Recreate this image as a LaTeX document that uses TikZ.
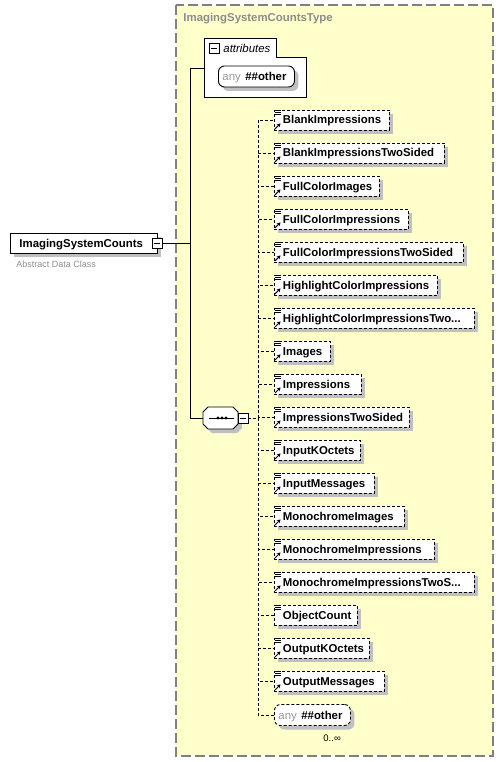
\documentclass[tikz,border=0pt]{standalone}
\usepackage{fontspec}
\setmainfont{Liberation Sans}
\usetikzlibrary{shadows,arrows.meta}
\definecolor{typefill}{HTML}{FFFFCC}
\definecolor{typeline}{HTML}{808080}
\definecolor{shadowgray}{HTML}{C0C0C0}
\definecolor{hintgray}{HTML}{8C8C8C}
\definecolor{anygray}{HTML}{999999}
\hyphenpenalty=10000
\exhyphenpenalty=10000
\newcommand\elemfont{\fontsize{11.4pt}{13pt}\selectfont\bfseries}
\newcommand\plainfont{\fontsize{11.4pt}{13pt}\selectfont}
% content marks of an element box
\newcommand\listmark[1]{%
  \draw[line width=0.9pt] ([shift={(1,1)}]#1.north west) -- ++(6,0)
    ([shift={(1,3)}]#1.north west) -- ++(6,0)
    ([shift={(1,5)}]#1.north west) -- ++(6,0);}
\newcommand\refmark[1]{%
  \draw[line width=1pt, -{Stealth[length=3.5pt,width=4pt]}]
    ([shift={(1.5,-1.5)}]#1.south west) -- ++(5.5,-5.5);}
\tikzset{
  boxshadow/.style={drop shadow={shadow xshift=4pt, shadow yshift=-4pt,
      fill=shadowgray, opacity=1}},
  elem/.style={draw, dash pattern=on 3pt off 2pt, fill=white, boxshadow,
    anchor=west, inner xsep=9pt, inner ysep=0pt, minimum height=20pt,
    text width=#1, align=left, text height=9.5pt, text depth=1.5pt,
    font=\elemfont},
  mainbox/.style={elem=#1, solid},
  anybox/.style={draw, fill=white, boxshadow, anchor=west, rounded corners=6pt,
    inner xsep=4pt, inner ysep=0pt, minimum height=21pt, text width=#1,
    align=left, text height=9.5pt, text depth=1.5pt, font=\plainfont},
  collapse/.style={draw, solid, fill=white, minimum size=10pt, inner sep=0pt,
    path picture={\draw ([xshift=2pt]path picture bounding box.west)
      -- ([xshift=-2pt]path picture bounding box.east);}},
  conn/.style={dash pattern=on 3pt off 2pt},
  hint/.style={anchor=west, inner sep=0pt},
}
\begin{document}
\begin{tikzpicture}[x=1pt, y=-1pt, line width=0.9pt]
  \useasboundingbox (0,0) rectangle (503,762);
  % complex type
  \draw[typeline, fill=typefill, line width=1.3pt, dash pattern=on 10pt off 4pt]
    (176,5) rectangle (493,756);
  \node[hint, font=\elemfont, text=hintgray] (typename) at (183,19)
    {ImagingSystemCountsType};

  % the element itself
  \node[mainbox=129pt] (isc) at (10,243) {ImagingSystemCounts};
  \node[collapse] (iscc) at (157,243) {};
  \node[hint, font=\fontsize{9pt}{10pt}\selectfont, text=hintgray] (abs)
    at (16,264) {Abstract Data Class};

  % attributes
  \draw[fill=white] (204,38) -| (276,57) -| (306,97) -| (204,38) -- cycle;
  \node[collapse] (attrc) at (214,48) {};
  \node[hint, font=\plainfont\itshape] (attrlbl) at (223,48) {attributes};
  \node[anybox=68pt] (anyattr) at (218,76.5)
    {\textcolor{anygray}{any}\hspace{4.5pt}\textbf{\#\#other}};
  \coordinate (attrin) at (204,68);

  % sequence
  \path[draw, fill=white, boxshadow] (203,412) -- (208,407) -- (233,407)
    -- (238,412) -- (238,424) -- (233,429) -- (208,429) -- (203,424) -- cycle;
  \draw (209,418) -- (234,418);
  \fill (218,418) circle (1.7);
  \fill (222,418) circle (1.7);
  \fill (226,418) circle (1.7);
  \coordinate (seqin) at (203,418);
  \node[collapse] (seqc) at (243,418) {};

  % child elements
  \node[elem=97.5pt]  (bi)    at (273.5,120) {BlankImpressions};
  \node[elem=152.5pt] (bits)  at (273.5,153) {BlankImpressionsTwoSided};
  \node[elem=87.5pt]  (fci)   at (273.5,186) {FullColorImages};
  \node[elem=116.5pt] (fcimp) at (273.5,219) {FullColorImpressions};
  \node[elem=171.5pt] (fcits) at (273.5,252) {FullColorImpressionsTwoSided};
  \node[elem=145.5pt] (hci)   at (273.5,285) {HighlightColorImpressions};
  \node[elem=182.5pt] (hcits) at (273.5,318) {HighlightColorImpressionsTwo...};
  \node[elem=38.5pt]  (img)   at (273.5,351) {Images};
  \node[elem=69.5pt]  (imp)   at (273.5,384) {Impressions};
  \node[elem=117.5pt] (impts) at (273.5,417) {ImpressionsTwoSided};
  \node[elem=68.5pt]  (iko)   at (273.5,450) {InputKOctets};
  \node[elem=82.5pt]  (imsg)  at (273.5,483) {InputMessages};
  \node[elem=112.5pt] (mci)   at (273.5,516) {MonochromeImages};
  \node[elem=142.5pt] (mcimp) at (273.5,549) {MonochromeImpressions};
  \node[elem=182.5pt] (mcits) at (273.5,582) {MonochromeImpressionsTwoS...};
  \node[elem=65.5pt]  (oc)    at (273.5,615) {ObjectCount};
  \node[elem=77.5pt]  (oko)   at (273.5,648) {OutputKOctets};
  \node[elem=92.5pt]  (omsg)  at (273.5,681) {OutputMessages};
  \node[anybox=68pt, conn] (anyel) at (274,715)
    {\textcolor{anygray}{any}\hspace{4.5pt}\textbf{\#\#other}};
  \node[hint, font=\fontsize{9.5pt}{10pt}\selectfont] (occ) at (323,738) {0..∞};

  \listmark{bi} \refmark{bi}
  \listmark{bits} \refmark{bits}
  \listmark{fci} \refmark{fci}
  \listmark{fcimp} \refmark{fcimp}
  \listmark{fcits} \refmark{fcits}
  \listmark{hci} \refmark{hci}
  \listmark{hcits} \refmark{hcits}
  \listmark{img} \refmark{img}
  \listmark{imp} \refmark{imp}
  \listmark{impts} \refmark{impts}
  \listmark{iko} \refmark{iko}
  \listmark{imsg} \refmark{imsg}
  \listmark{mci} \refmark{mci}
  \listmark{mcimp} \refmark{mcimp}
  \listmark{mcits} \refmark{mcits}
  \listmark{oc}
  \listmark{oko} \refmark{oko}
  \listmark{omsg} \refmark{omsg}

  % connectors
  \coordinate (trunk) at (190,243);
  \draw (iscc.east) -- (trunk);
  \draw (attrin) -| (trunk);
  \draw (seqin) -| (trunk);
  \coordinate (branch) at (258,418);
  \begin{scope}[conn]
    \draw (seqc.east) -- (branch);
    \draw (branch) |- (bi.west);
    \draw (branch) |- (bits.west);
    \draw (branch) |- (fci.west);
    \draw (branch) |- (fcimp.west);
    \draw (branch) |- (fcits.west);
    \draw (branch) |- (hci.west);
    \draw (branch) |- (hcits.west);
    \draw (branch) |- (img.west);
    \draw (branch) |- (imp.west);
    \draw (branch) |- (impts.west);
    \draw (branch) |- (iko.west);
    \draw (branch) |- (imsg.west);
    \draw (branch) |- (mci.west);
    \draw (branch) |- (mcimp.west);
    \draw (branch) |- (mcits.west);
    \draw (branch) |- (oc.west);
    \draw (branch) |- (oko.west);
    \draw (branch) |- (omsg.west);
    \draw (branch) |- (anyel.west);
  \end{scope}
\end{tikzpicture}
\end{document}
